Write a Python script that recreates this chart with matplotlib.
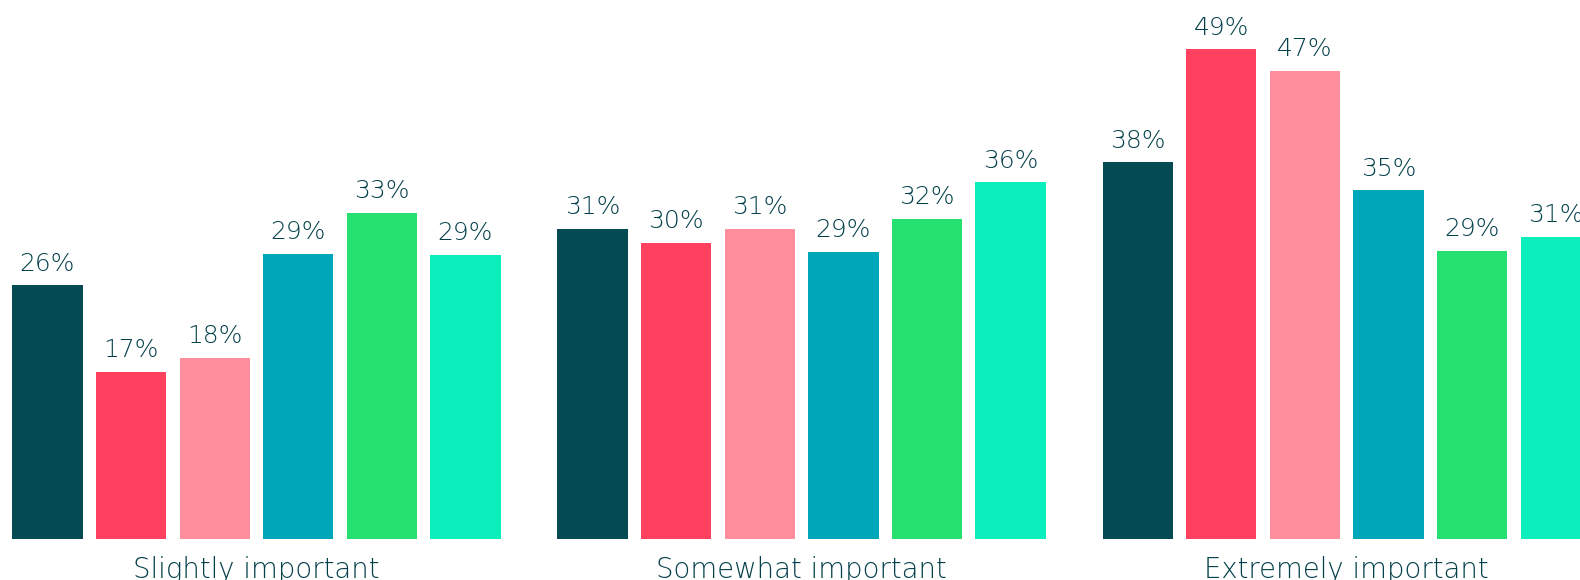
import matplotlib.pyplot as plt
import numpy as np

plt.rcParams['font.family'] = ['DejaVu Sans']

categories = ["Slightly important", "Somewhat important", "Extremely important"]
# bar heights (percent)
heights = [
    [25.2, 16.6, 18.0, 28.3, 32.4, 28.2],   # Slightly important
    [30.8, 29.4, 30.8, 28.5, 31.8, 35.4],   # Somewhat important
    [37.4, 48.6, 46.5, 34.6, 28.6, 30.0],   # Extremely important
]
# printed labels
labels = [
    [26, 17, 18, 29, 33, 29],
    [31, 30, 31, 29, 32, 36],
    [38, 49, 47, 35, 29, 31],
]
colors = ["#034A52", "#FF405E", "#FF8E9D", "#00A7B9", "#26E070", "#0AEFBC"]
text_color = "#03404A"

group_gap = 6.52
bar_w = 0.84

fig = plt.figure(figsize=(15.8, 5.8), dpi=100)
ax = fig.add_axes([0, 0, 1, 1])

for g, vals in enumerate(heights):
    for i, v in enumerate(vals):
        x = g * group_gap + i
        ax.bar(x, v, width=bar_w, color=colors[i], edgecolor="none")
        ax.annotate(f"{labels[g][i]}%", (x, v), xytext=(0, 10.5), textcoords="offset points",
                    ha="center", va="baseline", fontsize=18, color=text_color,
                    fontweight="light")
    ax.text(g * group_gap + 2.5, -3.85, categories[g], ha="center", va="baseline",
            fontsize=19.8, color=text_color, fontweight="light")

ax.set_xlim(-0.567, 18.33)
ax.set_ylim(-4.07, 53.5)
ax.axis("off")

plt.savefig("out.png", dpi=100)
plt.close()
